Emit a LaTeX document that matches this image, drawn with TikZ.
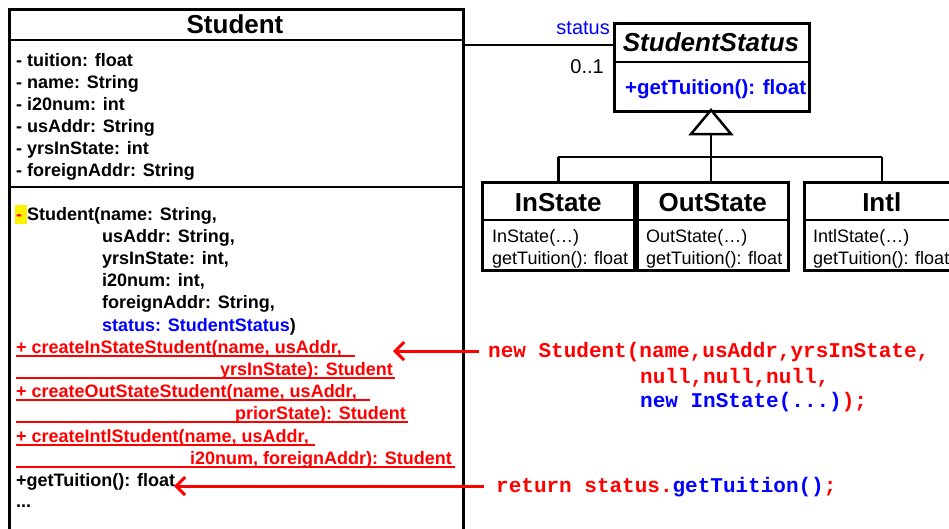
\documentclass[tikz,border=0pt]{standalone}
\usepackage{fontspec}
\setmainfont{Liberation Sans}
\newfontfamily\codefont{Liberation Mono}
\usetikzlibrary{arrows.meta}
\begin{document}
\begin{tikzpicture}[x=1pt,y=-1pt,
  box/.style={draw, line width=2.5pt, inner sep=0pt, fill=none},
  bigbox/.style={draw, line width=3pt, inner sep=0pt},
  ln/.style={line width=2.5pt},
  title/.style={inner sep=0pt, font=\fontsize{26}{30}\selectfont\bfseries, text height=18.6pt, text depth=0pt},
  txt/.style={anchor=west, inner sep=0pt, font=\fontsize{18}{22}\selectfont\bfseries, text height=13pt, text depth=0pt},
  rtxt/.style={txt, text=red},
  ptxt/.style={anchor=west, inner sep=0pt, font=\fontsize{18}{22}\selectfont, text height=13pt, text depth=0pt},
  code/.style={anchor=west, inner sep=0pt, font=\codefont\bfseries\fontsize{21}{25}\selectfont, text height=13pt, text depth=0pt},
  uline/.style={red, line width=1.5pt},
  arr/.style={red, line width=3pt, -{Straight Barb[length=9pt,width=18pt,line width=3pt]}}
]
\useasboundingbox (0,0) rectangle (949,528);
\clip (0,0) rectangle (949,528);

% ---------------- Student class ----------------
\node[bigbox, minimum width=454pt, minimum height=534pt, anchor=north west] (student) at (8,8) {};
\draw[ln] (student.west |- 0,40) -- (student.east |- 0,40);
\draw[ln] (student.west |- 0,187) -- (student.east |- 0,187);
\node[title] (stitle) at (235,24) {Student};

\foreach \t [count=\i] in {{- tuition: float},{- name: String},{- i20num: int},{- usAddr: String},{- yrsInState: int},{- foreignAddr: String}}
  \node[txt] (a\i) at (16,38+22*\i) {\t};

\fill[yellow] (15,205) rectangle (27,224);
\node[txt] (m1) at (16,214) {\textcolor{red}{-} Student(name: String,};
\node[txt] (m2) at (102,236) {usAddr: String,};
\node[txt] (m3) at (102,258) {yrsInState: int,};
\node[txt] (m4) at (102,280) {i20num: int,};
\node[txt] (m5) at (102,302) {foreignAddr: String,};
\node[txt] (m6) at (102,325) {\textcolor{blue}{status: StudentStatus})};

\node[rtxt] (c1) at (16,347) {+ createInStateStudent(name, usAddr,};
\node[rtxt] (c2) at (220,369) {yrsInState): Student};
\node[rtxt] (c3) at (16,391) {+ createOutStateStudent(name, usAddr,};
\node[rtxt] (c4) at (235,413) {priorState): Student};
\node[rtxt] (c5) at (16,436) {+ createIntlStudent(name, usAddr,};
\node[rtxt] (c6) at (190,458) {i20num, foreignAddr): Student};
\draw[uline] (16,356) -- (355,356);
\draw[uline] (16,378) -- (395,378);
\draw[uline] (16,400) -- (370,400);
\draw[uline] (16,422) -- (408,422);
\draw[uline] (16,445) -- (315,445);
\draw[uline] (16,467) -- (455,467);

\node[txt] (gt) at (16,480) {+getTuition(): float};
\node[txt] (dots) at (16,501) {...};

% ---------------- StudentStatus ----------------
\node[box, minimum width=195pt, minimum height=88pt, anchor=north west] (ss) at (613,22) {};
\draw[ln] (ss.west |- 0,62) -- (ss.east |- 0,62);
\node[title, font=\fontsize{26}{30}\selectfont\bfseries\itshape] (sstitle) at (711,42) {StudentStatus};
\node[txt, text=blue, font=\fontsize{20.5}{24}\selectfont\bfseries] (ssm) at (625,88) {+getTuition(): float};

\coordinate (assoc) at (0,45);
\draw[ln] (student.east |- assoc) -- (ss.west |- assoc);
\node[anchor=east, inner sep=0pt, text=blue, font=\fontsize{20}{24}\selectfont, text height=10pt, text depth=0pt] (role) at (610,29) {status};
\node[anchor=east, inner sep=0pt, font=\fontsize{20}{24}\selectfont, text height=14pt, text depth=0pt] (mult) at (604,66) {0..1};

% ---------------- Subclasses ----------------
\node[box, minimum width=152pt, minimum height=88pt, anchor=north west] (ins) at (481,181) {};
\node[box, minimum width=151pt, minimum height=88pt, anchor=north west] (outs) at (636,181) {};
\node[box, minimum width=155pt, minimum height=88pt, anchor=north west] (intl) at (803,181) {};
\foreach \b in {ins,outs,intl}
  \draw[ln] (\b.west |- 0,220) -- (\b.east |- 0,220);
\node[title] (inst) at (ins.north |- 0,202) {InState};
\node[title] (outt) at (outs.north |- 0,202) {OutState};
\node[title] (intt) at (intl.north |- 0,202) {Intl};
\node[ptxt] (ins1) at (492,236) {InState(…)};
\node[ptxt] (ins2) at (492,258) {getTuition(): float};
\node[ptxt] (out1) at (646,236) {OutState(…)};
\node[ptxt] (out2) at (646,258) {getTuition(): float};
\node[ptxt] (int1) at (813,236) {IntlState(…)};
\node[ptxt] (int2) at (813,258) {getTuition(): float};

% generalization
\coordinate (apex) at (711,110);
\coordinate (tb) at (711,134);
\coordinate (bar) at (0,157);
\draw[ln, fill=white, line join=miter] (apex) -- (691,134) -- (731,134) -- cycle;
\draw[ln] (tb) -- (tb |- outs.north);
\draw[ln] (ins.north |- bar) -- (intl.north |- bar);
\draw[ln] (ins.north |- bar) -- (ins.north);
\draw[ln] (intl.north |- bar) -- (intl.north);

% ---------------- Code ----------------
\node[code, text=red] (k1) at (488,351) {new Student(name,usAddr,yrsInState,};
\node[code, text=red] (k2) at (640,377) {null,null,null,};
\node[code] (k3) at (640,401) {\textcolor{blue}{new InState(...)}\textcolor{red}{);}};
\node[code] (k4) at (496,486) {\textcolor{red}{return status.}\textcolor{blue}{getTuition()}\textcolor{red}{;}};

\coordinate (tip1) at (393,351);
\coordinate (tip2) at (174,486);
\draw[arr] ([xshift=-9pt]k1.west) -- (tip1);
\draw[arr] ([xshift=-12pt]k4.west) -- (tip2);
\end{tikzpicture}
\end{document}
